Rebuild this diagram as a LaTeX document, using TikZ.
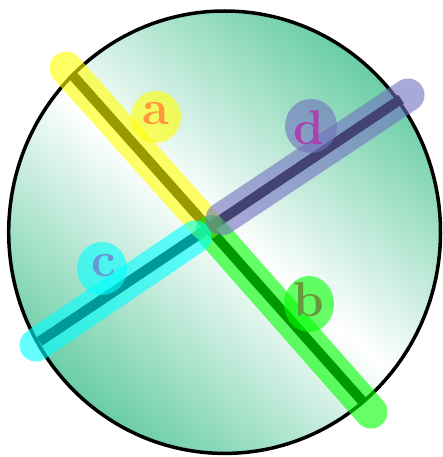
\documentclass[tikz,border=0pt]{standalone}
\definecolor{hlyellow}{RGB}{255,255,0}
\definecolor{hlgreen}{RGB}{0,255,0}
\definecolor{hlcyan}{RGB}{0,255,255}
\definecolor{hllav}{RGB}{112,112,190}
\definecolor{lettercol}{RGB}{255,0,150}
\definecolor{ballgreen}{RGB}{105,205,165}
\tikzset{
  hl/.style={line width=33pt, line cap=round, opacity=0.6},
  spoke/.style={line width=10pt, line cap=butt, black},
  letter/.style={anchor=base, inner sep=0pt, text=lettercol, font=\fontsize{49}{52}\selectfont\bfseries},
  blob/.style={opacity=0.6},
}
\begin{document}
\begin{tikzpicture}[x=1pt,y=-1pt]
\useasboundingbox (0,0) rectangle (442,457);
% ball
\coordinate (ctr) at (224.6,232.2);
\shade[top color=ballgreen, bottom color=ballgreen, middle color=white, shading angle=-40]
  (ctr) ellipse [x radius=215.9, y radius=221.2];
\draw[line width=3.5pt] (ctr) ellipse [x radius=215.9, y radius=221.2];
% spokes
\coordinate (A) at (71.5,74);
\coordinate (B) at (364,403);
\coordinate (C) at (39.5,341.5);
\coordinate (D) at (401,99);
\draw[spoke] (A) -- (B);
\draw[spoke] (C) -- (D);
% highlights
\coordinate (ya) at (66,68);   \coordinate (yb) at (205,223.7);
\coordinate (ga) at (212,231.6); \coordinate (gb) at (371,412);
\coordinate (ca) at (36,345);  \coordinate (cb) at (195,237);
\coordinate (da) at (222,218.8); \coordinate (db) at (408,95);
\draw[hl, hlyellow] (ya) -- (yb);
\draw[hl, hlgreen] (ga) -- (gb);
\draw[hl, hlcyan] (ca) -- (cb);
\draw[hl, hllav] (da) -- (db);
% labels
\node[letter] (la) at (156,125) {a};
\node[letter] (lb) at (309,316.7) {b};
\node[letter] (lc) at (103.3,276.7) {c};
\node[letter] (ld) at (309,145) {d};
\fill[blob, hlyellow] (156,117) ellipse [x radius=25, y radius=26];
\fill[blob, hlgreen] (309,304) ellipse [x radius=25, y radius=28];
\fill[blob, hlcyan] (102,268.5) ellipse [x radius=25, y radius=26.5];
\fill[blob, hllav] (311,126) ellipse [x radius=26, y radius=27];
\end{tikzpicture}
\end{document}
